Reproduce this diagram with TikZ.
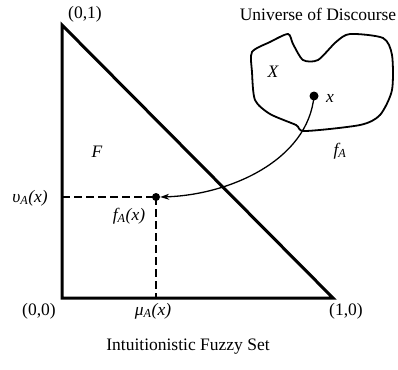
\documentclass[tikz,border=0pt]{standalone}
\usepackage{fontspec}
\setmainfont{Liberation Serif}
\usetikzlibrary{arrows.meta}
\begin{document}
\begin{tikzpicture}[x=1pt,y=-1pt,
  lbl/.style={font=\fontsize{17.5}{20}\selectfont, inner sep=0pt},
  axis/.style={line width=3pt, line join=miter},
  guide/.style={line width=2.2pt, dash pattern=on 8pt off 4pt},
  dot/.style={circle, fill=black, inner sep=0pt, minimum size=8pt}]
\useasboundingbox (0,0) rectangle (398,369);
% triangle
\coordinate (o) at (62,298);
\coordinate (t) at (62,25);
\coordinate (r) at (333,298);
\draw[axis] (t) -- (o) -- (r) -- cycle;
% point f_A(x)
\node[dot] (p) at (156,197) {};
\coordinate (py) at (62,197);
\coordinate (px) at (156,298);
\draw[guide] (py) -- (p.center);
\draw[guide] (p.center) -- (px);
% universe blob
\draw[line width=1.8pt] plot[smooth cycle, tension=0.45] coordinates {
 (252,52) (270,42) (288,34) (293,44) (303,60) (318,60) (336,42) (350,34)
 (383,38) (392,55) (392,90) (380,115) (360,125) (305,131) (296,125)
 (270,114) (255,100) (252,72)};
\node[dot, minimum size=9pt] (xp) at (314,96) {};
% mapping arrow
\draw[line width=1.3pt, -{Stealth[length=9pt,width=6pt]}] (xp.center) .. controls (308,160) and (230,195) .. (p.east);
% labels
\node[lbl] (l01) at (85,14) {(0,1)};
\node[lbl] (l00) at (39,311) {(0,0)};
\node[lbl] (l10) at (346,311) {(1,0)};
\node[lbl] (lmu) at (153,311) {\itshape μ\textsubscript{A}(x)};
\node[lbl] (lnu) at (30,198) {\itshape υ\textsubscript{A}(x)};
\node[lbl] (lf) at (129,216) {\itshape f\textsubscript{A}(x)};
\node[lbl] (lF) at (97,152) {\itshape F};
\node[lbl] (lX) at (273,72) {\itshape X};
\node[lbl] (lx) at (330,98) {\itshape x};
\node[lbl] (lfa) at (340,151) {\itshape f\textsubscript{A}};
\node[lbl] (luni) at (318,14) {Universe of Discourse};
\node[lbl] (lifs) at (188,347) {Intuitionistic Fuzzy Set};
\end{tikzpicture}
\end{document}
